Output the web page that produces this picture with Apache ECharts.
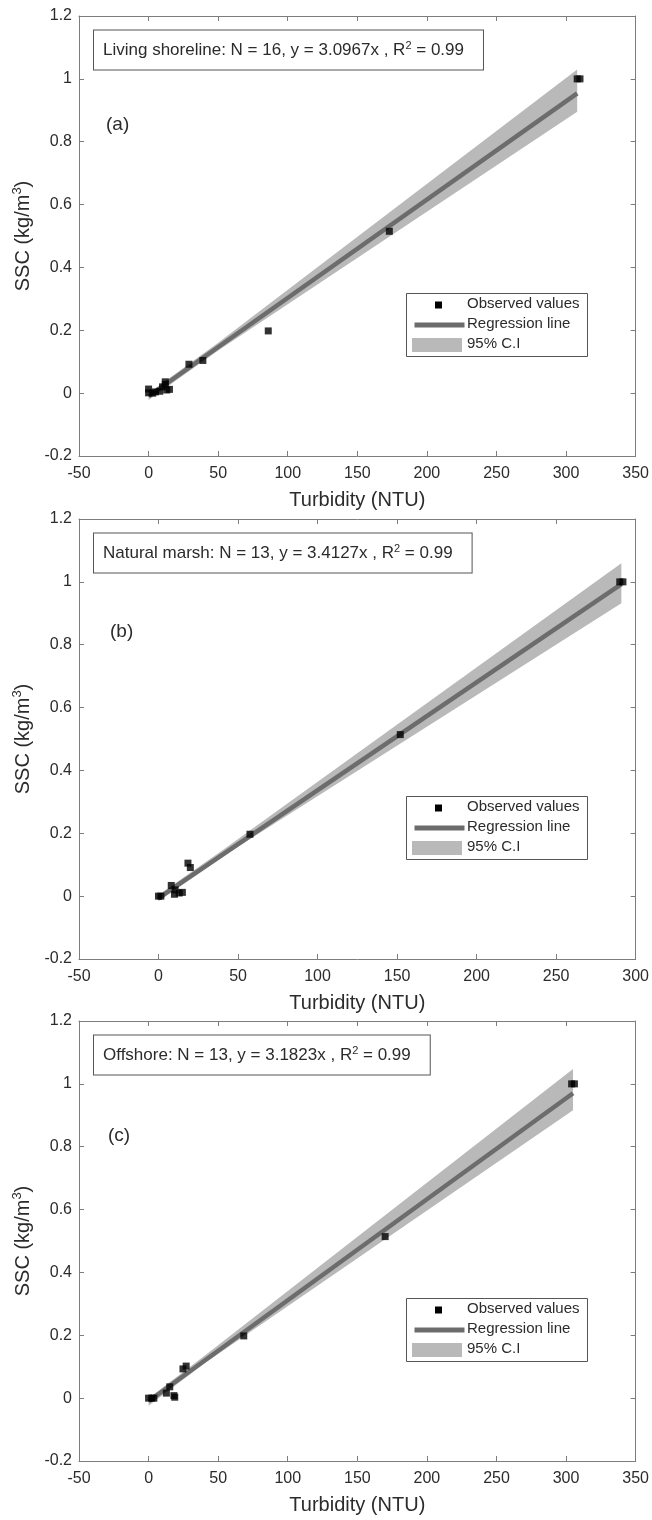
<!DOCTYPE html>
<html><head><meta charset="utf-8">
<script src="https://cdn.jsdelivr.net/npm/echarts@6/dist/echarts.min.js"></script>
<style>html,body{margin:0;padding:0;background:#fff}#c{width:652px;height:1520px}</style>
</head><body><div id="c"></div>
<script>
// ---------- tick labels ----------
const xTicksA = [-50, 0, 50, 100, 150, 200, 250, 300, 350];
const xTicksB = [-50, 0, 50, 100, 150, 200, 250, 300];
const xTicksC = [-50, 0, 50, 100, 150, 200, 250, 300, 350];
const yTicks = [-0.2, 0, 0.2, 0.4, 0.6, 0.8, 1, 1.2];

// ---------- panel texts ----------
const panelNames = ['Living shoreline', 'Natural marsh', 'Offshore'];
const panelTags = ['(a)', '(b)', '(c)'];
const panelN = [16, 13, 13];
const panelSlope = ['3.0967', '3.4127', '3.1823'];
const panelR2 = ['0.99', '0.99', '0.99'];

// ---------- (a) Living shoreline ----------
const livingTurb = [308, 310, 173, 86, 39, 29, 0, 0, 3, 5, 8, 10, 12, 12, 13, 15];
const livingSSC  = [1.0, 1.0, 0.515, 0.198, 0.104, 0.092, 0.013, 0.001, 0.0, 0.004, 0.006, 0.02, 0.036, 0.028, 0.01, 0.012];
const livingFitX = [0, 308];
const livingFitY = [-0.01, 0.954];
const livingBandX  = [0, 50, 308];
const livingBandLo = [-0.022, 0.136, 0.895];
const livingBandHi = [0.0, 0.16, 1.03];

// ---------- (b) Natural marsh ----------
const marshTurb = [290, 292, 152, 57.5, 18.5, 20, 8, 0, 1.5, 10, 13, 15, 10.5];
const marshSSC  = [1.0, 1.0, 0.514, 0.197, 0.105, 0.091, 0.034, 0.0, 0.0, 0.006, 0.01, 0.012, 0.02];
const marshFitX = [0, 291];
const marshFitY = [-0.006, 0.993];
const marshBandX  = [0, 40, 291];
const marshBandLo = [-0.016, 0.125, 0.932];
const marshBandHi = [0.004, 0.145, 1.059];

// ---------- (c) Offshore ----------
const offshoreTurb = [304, 306, 170, 68.4, 27, 24.7, 15.2, 18.2, 18.8, 12.8, 0, 3.8, 2.3];
const offshoreSSC  = [1.0, 1.0, 0.514, 0.198, 0.102, 0.093, 0.036, 0.008, 0.003, 0.016, 0.0, 0.0, 0.0];
const offshoreFitX = [0, 305];
const offshoreFitY = [-0.01, 0.97];
const offshoreBandX  = [0, 40, 305];
const offshoreBandLo = [-0.024, 0.11, 0.916];
const offshoreBandHi = [0.0, 0.134, 1.047];

// ---------- layout / style ----------
const FONT = 'Liberation Sans, Arial, Helvetica, sans-serif';
const TXT = '#2b2b2b';
const AX = '#7d7d7d';
const panelTop = [16, 519, 1021];
const panelH = 440;
const gridLeft = 79, gridRight = 15;

const panels = [
  {xt: xTicksA, tx: livingTurb, ty: livingSSC, fx: livingFitX, fy: livingFitY, bx: livingBandX, bl: livingBandLo, bh: livingBandHi, tag: [106, 110]},
  {xt: xTicksB, tx: marshTurb, ty: marshSSC, fx: marshFitX, fy: marshFitY, bx: marshBandX, bl: marshBandLo, bh: marshBandHi, tag: [110, 114]},
  {xt: xTicksC, tx: offshoreTurb, ty: offshoreSSC, fx: offshoreFitX, fy: offshoreFitY, bx: offshoreBandX, bl: offshoreBandLo, bh: offshoreBandHi, tag: [108, 116]}
];

const grid = [], xAxis = [], yAxis = [], series = [], graphic = [];

function axisBase(ticks, pos, showLabel) {
  return {
    type: 'value', position: pos,
    min: ticks[0], max: ticks[ticks.length - 1], interval: ticks[1] - ticks[0],
    axisLine: {show: true, onZero: false, lineStyle: {color: AX, width: 1}},
    axisTick: {show: true, inside: true, length: 5, lineStyle: {color: AX}},
    splitLine: {show: false},
    axisLabel: {show: showLabel, color: TXT, fontSize: 16, fontFamily: FONT}
  };
}

panels.forEach((p, k) => {
  const top = panelTop[k];
  grid.push({left: gridLeft, right: gridRight, top: top, height: panelH, containLabel: false});

  const xb = axisBase(p.xt, 'bottom', true);
  xb.gridIndex = k;
  xb.axisLabel.margin = 10;
  xb.name = 'Turbidity (NTU)';
  xb.nameLocation = 'middle';
  xb.nameGap = 34;
  xb.nameTextStyle = {fontSize: 20, color: TXT, fontFamily: FONT};
  xAxis.push(xb);

  const yl = axisBase(yTicks, 'left', true);
  yl.gridIndex = k;
  yl.axisLabel.margin = 7;
  yl.name = '{n|SSC (kg/m}{s|3}{n|)}';
  yl.nameLocation = 'middle';
  yl.nameGap = 36;
  yl.nameTextStyle = {color: TXT, fontFamily: FONT, rich: {
    n: {fontSize: 20, lineHeight: 26, color: TXT, fontFamily: FONT},
    s: {fontSize: 13, lineHeight: 13, verticalAlign: 'top', color: TXT, fontFamily: FONT}
  }};
  yAxis.push(yl);
});
panels.forEach((p, k) => {
  const xt = axisBase(p.xt, 'top', false); xt.gridIndex = k; xAxis.push(xt);
  const yr = axisBase(yTicks, 'right', false); yr.gridIndex = k; yAxis.push(yr);
});

panels.forEach((p, k) => {
  const bandData = p.bx.map((x, i) => [x, p.bl[i], p.bh[i]]);
  series.push({
    type: 'custom', name: '95% C.I', xAxisIndex: k, yAxisIndex: k, z: 1, silent: true,
    data: bandData,
    encode: {x: 0, y: [1, 2]},
    renderItem: function (params, api) {
      if (params.dataIndex !== 0) return null;
      const upper = bandData.map(d => api.coord([d[0], d[2]]));
      const lower = bandData.map(d => api.coord([d[0], d[1]])).reverse();
      return {type: 'polygon', shape: {points: upper.concat(lower)}, style: {fill: '#b9b9b9', stroke: null}};
    }
  });
  series.push({
    type: 'line', name: 'Regression line', xAxisIndex: k, yAxisIndex: k, z: 2, silent: true,
    data: p.fx.map((x, i) => [x, p.fy[i]]),
    showSymbol: false, symbol: 'none',
    lineStyle: {color: '#6c6c6c', width: 4.5}
  });
  series.push({
    type: 'scatter', name: 'Observed values', xAxisIndex: k, yAxisIndex: k, z: 3, silent: true,
    data: p.tx.map((x, i) => [x, p.ty[i]]),
    symbol: 'rect', symbolSize: 7,
    itemStyle: {color: '#000'}
  });

  const top = panelTop[k];
  // annotation box
  graphic.push({
    type: 'text', left: 93, top: top + 13.5, z: 10,
    style: {
      text: '{t|' + panelNames[k] + ': N = ' + panelN[k] + ', y = ' + panelSlope[k] + 'x , R}{s|2}{t| = ' + panelR2[k] + '}',
      rich: {
        t: {fontSize: 17, fontFamily: FONT, fill: TXT, lineHeight: 20},
        s: {fontSize: 11, fontFamily: FONT, fill: TXT, lineHeight: 11, verticalAlign: 'top'}
      },
      padding: [10, 19, 9, 9],
      borderColor: '#555', borderWidth: 1, backgroundColor: '#fff'
    }
  });
  // panel tag
  graphic.push({
    type: 'text', left: p.tag[0], top: top + p.tag[1] - 11, z: 10,
    style: {text: panelTags[k], fontSize: 19, fontFamily: FONT, fill: TXT}
  });
  // legend
  const lx = 406, ly = top + 277;
  graphic.push({type: 'rect', left: lx, top: ly, z: 10, shape: {width: 181, height: 63}, style: {fill: '#fff', stroke: '#555', lineWidth: 1}});
  graphic.push({type: 'rect', left: lx + 29, top: ly + 12 - 3.5, z: 11, shape: {width: 7, height: 7}, style: {fill: '#000'}});
  graphic.push({type: 'line', left: lx + 6, top: ly + 32 - 2.5, z: 11, shape: {x1: 0, y1: 2.5, x2: 50, y2: 2.5}, style: {stroke: '#6c6c6c', lineWidth: 5}});
  graphic.push({type: 'rect', left: lx + 6, top: ly + 52 - 7, z: 11, shape: {width: 50, height: 14}, style: {fill: '#b9b9b9'}});
  const legTexts = ['Observed values', 'Regression line', '95% C.I'];
  legTexts.forEach((t, i) => {
    graphic.push({type: 'text', left: lx + 61, top: ly + 12 + 20 * i - 9, z: 11,
      style: {text: t, fontSize: 15, fontFamily: FONT, fill: TXT}});
  });
});

const chart = echarts.init(document.getElementById('c'), null, {renderer: 'canvas'});
chart.setOption({
  backgroundColor: '#fff',
  animation: false,
  grid: grid, xAxis: xAxis, yAxis: yAxis, series: series, graphic: graphic
});
</script>
</body></html>
